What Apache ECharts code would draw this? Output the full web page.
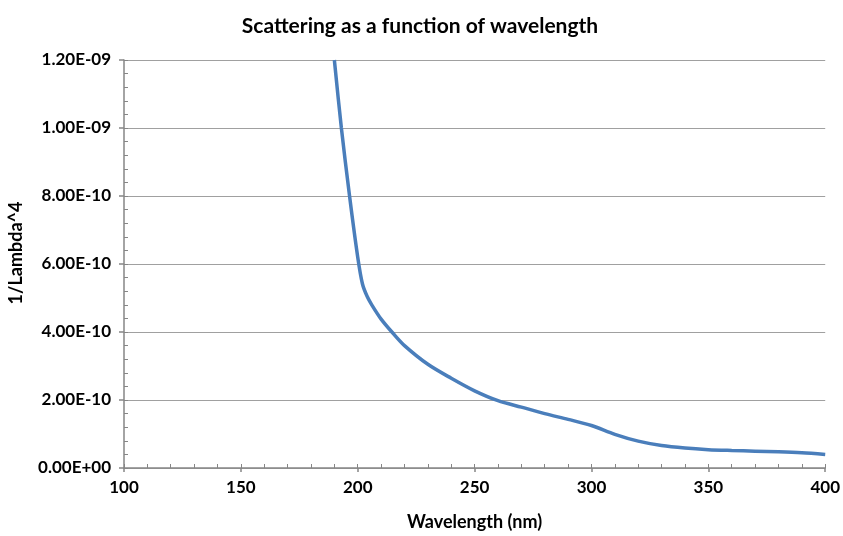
<!DOCTYPE html>
<html>
<head>
<meta charset="utf-8">
<script src="https://cdn.jsdelivr.net/npm/echarts@6/dist/echarts.min.js"></script>
<style>html,body{margin:0;padding:0;background:#fff}#c{width:843px;height:536px}</style>
</head>
<body>
<div id="c"></div>
<script>
const chartTitle = 'Scattering as a function of wavelength';
const xName = 'Wavelength (nm)';
const yName = '1/Lambda^4';
const wavelengths = [190, 193, 196.5, 200, 202, 204, 206, 210, 215, 220, 230, 240, 250, 260, 270, 280, 290, 300, 310, 320, 330, 340, 350, 360, 370, 380, 390, 400];
const scattering = [1.2e-9, 1.0e-9, 8.0e-10, 6.2e-10, 5.42e-10, 5.05e-10, 4.8e-10, 4.38e-10, 3.97e-10, 3.6e-10, 3.05e-10, 2.64e-10, 2.27e-10, 1.98e-10, 1.79e-10, 1.60e-10, 1.43e-10, 1.25e-10, 9.9e-11, 7.9e-11, 6.6e-11, 5.86e-11, 5.4e-11, 5.15e-11, 4.95e-11, 4.75e-11, 4.45e-11, 3.97e-11];
const xMin = 100, xMax = 400, xStep = 50, xMinorStep = 10;
const yMin = 0, yMax = 1.2e-9, yStep = 2e-10, yMinorStep = 4e-11;

function sci(v) {
  if (Math.abs(v) < 1e-20) return '0.00E+00';
  const s = v.toExponential(2);
  const parts = s.split('e');
  const sign = parts[1][0];
  let d = parts[1].slice(1);
  if (d.length < 2) d = '0' + d;
  return parts[0] + 'E' + sign + d;
}

const font = 'Lato';
const axisColor = '#868686';
const chart = echarts.init(document.getElementById('c'));
chart.setOption({
  animation: false,
  backgroundColor: '#fff',
  title: {
    text: chartTitle, left: 415, top: 11, textAlign: 'center',
    textStyle: { fontFamily: font, fontWeight: 'bold', fontSize: 21, color: '#000' }
  },
  grid: { left: 124, right: 14, top: 60, bottom: 61, containLabel: false },
  graphic: [{
    type: 'text', x: 16, y: 253, rotation: Math.PI / 2,
    style: { text: yName, fontFamily: font, fontWeight: 'bold', fontSize: 18, fill: '#000', align: 'center', verticalAlign: 'middle' }
  }],
  xAxis: [{
    type: 'value', min: xMin, max: xMax, interval: xStep, position: 'bottom',
    name: xName, nameLocation: 'middle', nameGap: 45,
    nameTextStyle: { fontFamily: font, fontWeight: 'bold', fontSize: 18, color: '#000' },
    axisLine: { lineStyle: { color: axisColor, width: 1.5 } },
    axisTick: { show: true, inside: false, length: 4, lineStyle: { color: axisColor, width: 1.5 } },
    axisLabel: { margin: 11, fontFamily: font, fontWeight: 'bold', fontSize: 17, color: '#000' },
    splitLine: { show: false }
  }, {
    type: 'value', min: xMin, max: xMax, interval: xMinorStep, position: 'bottom', offset: 0,
    axisLine: { show: false },
    axisTick: { show: true, inside: true, length: 4, lineStyle: { color: axisColor, width: 1 } },
    axisLabel: { show: false },
    splitLine: { show: false }
  }],
  yAxis: [{
    type: 'value', min: yMin, max: yMax, interval: yStep, position: 'left',
    axisLine: { show: true, lineStyle: { color: axisColor, width: 1.5 } },
    axisTick: { show: true, inside: false, length: 5, lineStyle: { color: axisColor, width: 1.5 } },
    axisLabel: { margin: 13, fontFamily: font, fontWeight: 'bold', fontSize: 17, color: '#000', formatter: sci },
    splitLine: { show: true, lineStyle: { color: '#a0a0a0', width: 1.2 } }
  }, {
    type: 'value', min: yMin, max: yMax, interval: yMinorStep, position: 'left', offset: 0,
    axisLine: { show: false },
    axisTick: { show: true, inside: true, length: 4, lineStyle: { color: axisColor, width: 1 } },
    axisLabel: { show: false },
    splitLine: { show: false }
  }],
  series: [{
    type: 'line', xAxisIndex: 0, yAxisIndex: 0,
    data: wavelengths.map((w, i) => [w, scattering[i]]),
    showSymbol: false, smooth: 0.3,
    lineStyle: { color: '#4a7ebb', width: 3.5 },
    clip: true
  }]
});
</script>
</body>
</html>
